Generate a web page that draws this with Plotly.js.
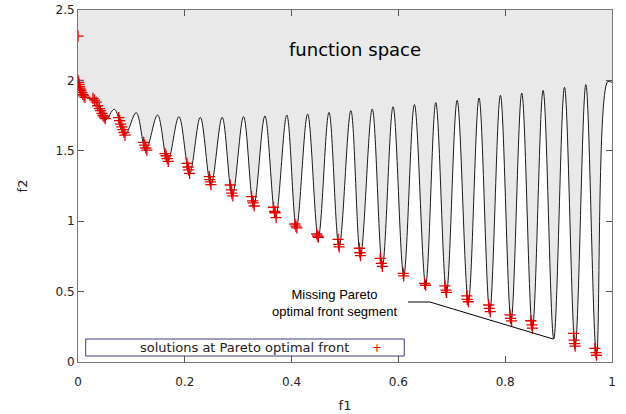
<!DOCTYPE html>
<html>
<head>
<meta charset="utf-8">
<script src="https://cdn.plot.ly/plotly-3.0.1.min.js"></script>
<style>html,body{margin:0;padding:0;background:#fff;}#chart{width:626px;height:414px;}</style>
</head>
<body>
<div id="chart"></div>
<script>
// Objective-space boundary curve (start, then alternating troughs/peaks)
const curveF1 = [0, 0.006, 0.013, 0.026, 0.035, 0.044, 0.052, 0.068, 0.088, 0.109, 0.127, 0.149, 0.168, 0.189, 0.209, 0.229, 0.249, 0.270, 0.289, 0.310, 0.329, 0.350, 0.370, 0.391, 0.409, 0.430, 0.450, 0.470, 0.489, 0.511, 0.529, 0.551, 0.570, 0.590, 0.610, 0.630, 0.651, 0.670, 0.690, 0.710, 0.731, 0.751, 0.771, 0.791, 0.811, 0.831, 0.851, 0.871, 0.891, 0.911, 0.931, 0.951, 0.971, 0.992, 1.0];
const curveF2 = [2.0, 1.93, 1.885, 1.862, 1.84, 1.77, 1.719, 1.795, 1.612, 1.771, 1.506, 1.754, 1.423, 1.743, 1.338, 1.738, 1.257, 1.738, 1.180, 1.743, 1.105, 1.747, 1.025, 1.754, 0.955, 1.761, 0.884, 1.773, 0.814, 1.785, 0.750, 1.797, 0.679, 1.813, 0.612, 1.828, 0.545, 1.842, 0.490, 1.858, 0.425, 1.875, 0.355, 1.894, 0.293, 1.910, 0.236, 1.929, 0.163, 1.951, 0.110, 1.970, 0.048, 1.992, 1.985];

// Solutions found at the Pareto optimal front
const paretoF1 = [0, 0, 0.001, 0.002, 0.003, 0.004, 0.005, 0.007, 0.009, 0.011, 0.013, 0.028, 0.031, 0.034, 0.037, 0.040, 0.042, 0.045, 0.047, 0.049, 0.051,
  0.076, 0.078, 0.080, 0.082, 0.084, 0.086, 0.088,
  0.123, 0.125, 0.127, 0.129,
  0.163, 0.165, 0.167, 0.169,
  0.204, 0.206, 0.207, 0.209,
  0.246, 0.247, 0.248, 0.249,
  0.285, 0.287, 0.288, 0.290,
  0.325, 0.327, 0.328, 0.330,
  0.366, 0.368, 0.369, 0.371,
  0.406, 0.408, 0.410,
  0.447, 0.449, 0.450,
  0.487, 0.488, 0.489,
  0.527, 0.528, 0.529,
  0.566, 0.568, 0.570,
  0.609, 0.610,
  0.649, 0.651,
  0.687, 0.689, 0.690,
  0.728, 0.729, 0.731,
  0.769, 0.770, 0.772,
  0.809, 0.810, 0.812,
  0.848, 0.850, 0.851,
  0.928, 0.929, 0.930, 0.931,
  0.968, 0.970, 0.971];
const paretoF2 = [2.315, 2.0, 1.985, 1.97, 1.955, 1.94, 1.93, 1.915, 1.90, 1.89, 1.88, 1.872, 1.86, 1.845, 1.82, 1.80, 1.785, 1.765, 1.75, 1.74, 1.728,
  1.735, 1.715, 1.69, 1.67, 1.65, 1.63, 1.612,
  1.56, 1.54, 1.52, 1.505,
  1.48, 1.465, 1.445, 1.425,
  1.41, 1.385, 1.365, 1.34,
  1.316, 1.295, 1.28, 1.26,
  1.257, 1.222, 1.20, 1.18,
  1.174, 1.145, 1.13, 1.108,
  1.099, 1.07, 1.06, 1.025,
  0.98, 0.965, 0.952,
  0.909, 0.895, 0.886,
  0.871, 0.835, 0.818,
  0.808, 0.776, 0.755,
  0.736, 0.701, 0.679,
  0.630, 0.612,
  0.559, 0.545,
  0.54, 0.511, 0.495,
  0.469, 0.445, 0.428,
  0.405, 0.381, 0.358,
  0.334, 0.31, 0.292,
  0.293, 0.263, 0.24,
  0.204, 0.156, 0.13, 0.113,
  0.097, 0.066, 0.048];

const xTicks = [0, 0.2, 0.4, 0.6, 0.8, 1];
const xTickText = ['0', '0.2', '0.4', '0.6', '0.8', '1'];
const yTicks = [0, 0.5, 1, 1.5, 2, 2.5];
const yTickText = ['0', '0.5', '1', '1.5', '2', '2.5'];

const legendLabel = 'solutions at Pareto optimal front';

const traces = [
  {
    x: curveF1, y: curveF2, type: 'scatter', mode: 'lines',
    line: {color: '#1a1a1a', width: 1, shape: 'spline', smoothing: 1, simplify: false},
    fill: 'tozeroy', fillcolor: '#ffffff',
    showlegend: false, hoverinfo: 'skip'
  },
  {
    x: paretoF1, y: paretoF2, type: 'scatter', mode: 'markers',
    name: legendLabel,
    marker: {symbol: 'cross-thin', size: 8, color: '#e00000', line: {color: '#e00000', width: 1.3}},
    showlegend: false, cliponaxis: true
  }
];

const axisFont = {family: 'DejaVu Sans', size: 12, color: '#222'};
const layout = {
  width: 626, height: 414,
  margin: {l: 78, r: 14, t: 10, b: 52, pad: 0},
  paper_bgcolor: '#ffffff',
  plot_bgcolor: '#e9e9e9',
  showlegend: false,
  xaxis: {
    range: [0, 1], tickvals: xTicks, ticktext: xTickText,
    ticks: 'inside', ticklen: 6, tickcolor: '#555', tickwidth: 1,
    showline: true, linecolor: '#777', linewidth: 1, mirror: 'ticks',
    showgrid: false, zeroline: false, tickfont: axisFont, ticklabelstandoff: 9,
    title: {text: 'f1', font: {family: 'DejaVu Sans', size: 13, color: '#222'}, standoff: 12}
  },
  yaxis: {
    range: [0, 2.5], tickvals: yTicks, ticktext: yTickText,
    ticks: 'inside', ticklen: 6, tickcolor: '#555', tickwidth: 1,
    showline: true, linecolor: '#777', linewidth: 1, mirror: 'ticks',
    showgrid: false, zeroline: false, tickfont: axisFont,
    title: {text: 'f2', font: {family: 'DejaVu Sans', size: 13, color: '#222'}, standoff: 24}
  },
  shapes: [
    {type: 'rect', xref: 'paper', yref: 'paper', x0: 0.0144, x1: 0.611, y0: 0.017, y1: 0.0653,
     line: {color: '#3c3c80', width: 1}, fillcolor: 'rgba(255,255,255,0)', layer: 'above'},
    {type: 'path', xref: 'x', yref: 'y', path: 'M 0.618 0.426 L 0.659 0.426 L 0.890 0.163',
     line: {color: '#000', width: 1}, layer: 'above'}
  ],
  annotations: [
    {xref: 'paper', yref: 'paper', x: 0.519, y: 0.889, text: 'function space', showarrow: false,
     font: {family: 'DejaVu Sans', size: 18, color: '#000'}, xanchor: 'center', yanchor: 'middle'},
    {xref: 'paper', yref: 'paper', x: 0.311, y: 0.0398, text: legendLabel, showarrow: false,
     font: {family: 'DejaVu Sans', size: 13, color: '#222'}, xanchor: 'center', yanchor: 'middle'},
    {xref: 'paper', yref: 'paper', x: 0.560, y: 0.0398, text: '+', showarrow: false,
     font: {family: 'DejaVu Sans', size: 12, color: '#e00000'}, xanchor: 'center', yanchor: 'middle'},
    {xref: 'paper', yref: 'paper', x: 0.481, y: 0.168, text: 'Missing Pareto<br>optimal front segment', showarrow: false,
     font: {family: 'Liberation Sans', size: 13, color: '#000'}, xanchor: 'center', yanchor: 'middle', align: 'center'}
  ]
};

Plotly.newPlot('chart', traces, layout, {displayModeBar: false, staticPlot: true});
</script>
</body>
</html>
